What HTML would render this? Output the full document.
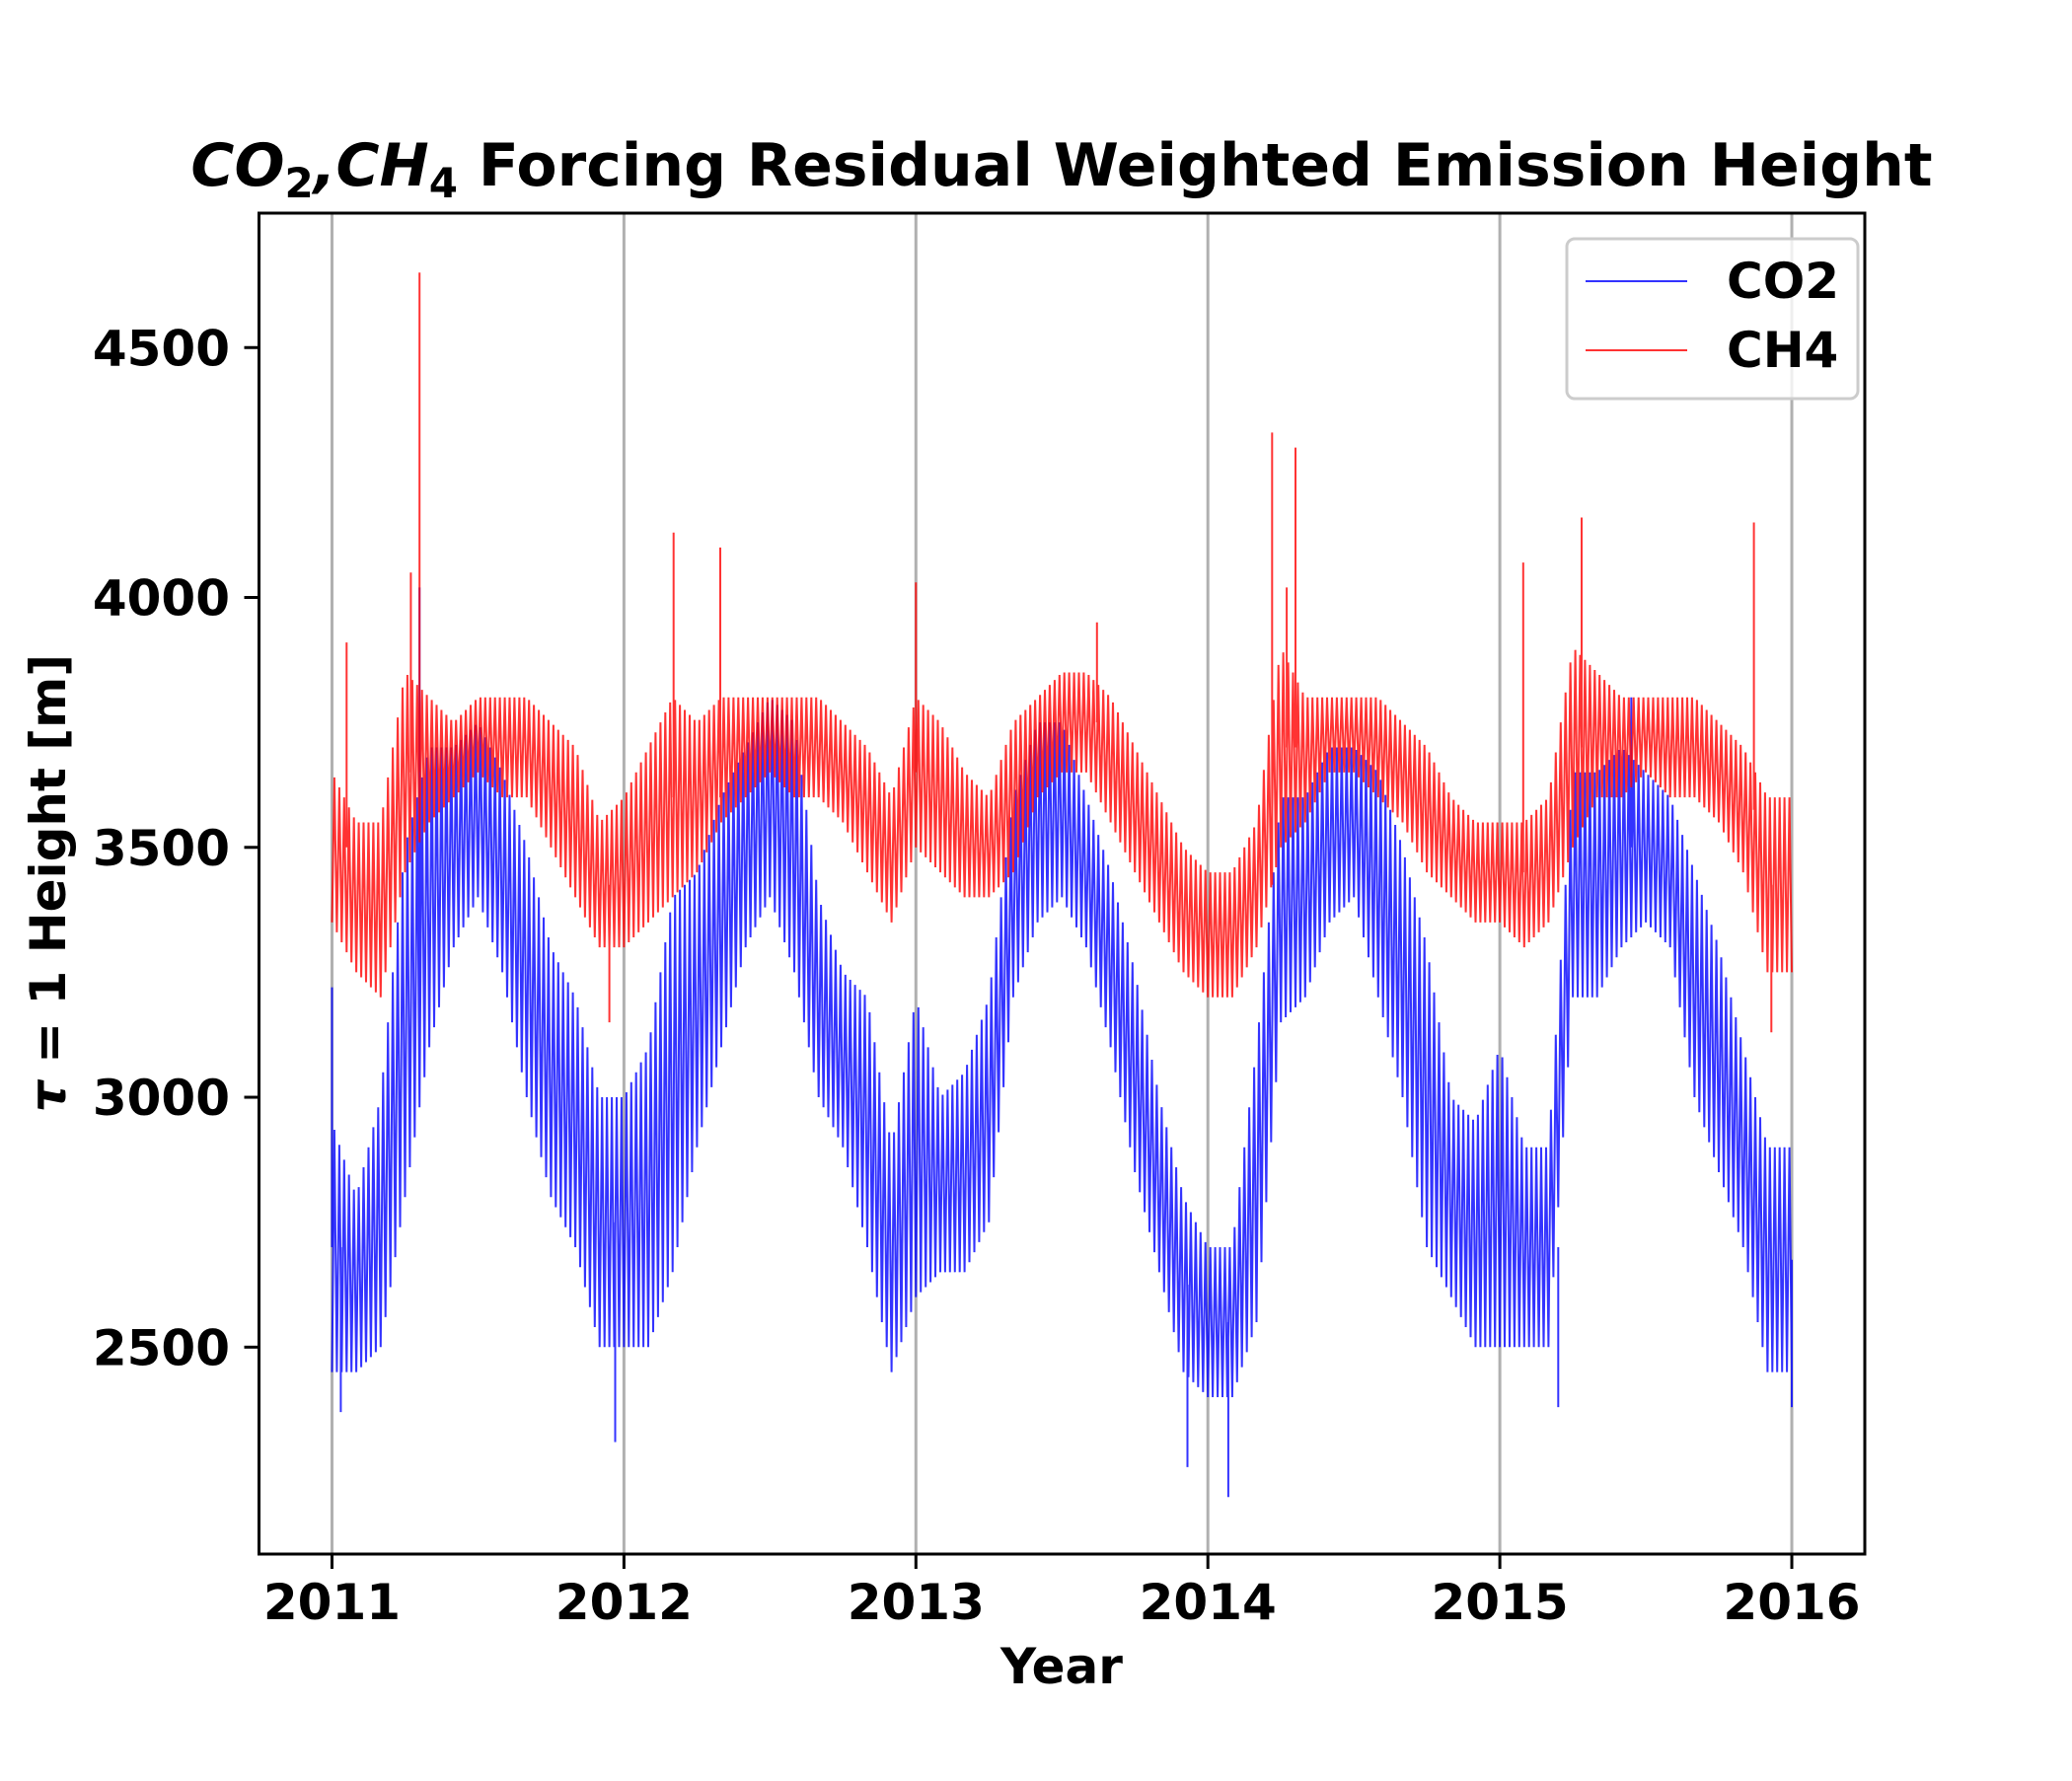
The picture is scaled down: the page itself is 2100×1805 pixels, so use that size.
<!DOCTYPE html>
<html><head><meta charset="utf-8"><style>
html,body{margin:0;padding:0;background:#fff;}
svg text{font-family:"DejaVu Sans","Liberation Sans",sans-serif;font-weight:bold;}
</style></head><body>
<svg id="chart" width="2100" height="1800" viewBox="0 0 2100 1800" xmlns="http://www.w3.org/2000/svg">
<rect width="2100" height="1800" fill="#fff"/>
<text x="1076" y="188" font-size="60" text-anchor="middle"><tspan font-style="italic">CO</tspan><tspan font-size="42" dy="12">2</tspan><tspan dy="-12" font-style="italic">,CH</tspan><tspan font-size="42" dy="12">4</tspan><tspan dy="-12"> Forcing Residual Weighted Emission Height</tspan></text>
<g id="grid"></g>
<g id="series"></g>
<rect x="262.5" y="216" width="1627.5" height="1359" fill="none" stroke="#000" stroke-width="3"/>
<g id="xticks"></g>
<g id="yticks"></g>
<text x="1076" y="1706" font-size="50" text-anchor="middle">Year</text>
<text transform="translate(66,895) rotate(-90)" font-size="50" text-anchor="middle"><tspan font-style="italic">τ</tspan> = 1 Height [m]</text>
<g>
<rect x="1588" y="242" width="295" height="162" rx="8" fill="#fff" fill-opacity="0.8" stroke="#ccc" stroke-width="3"/>
<line x1="1607" y1="285" x2="1710" y2="285" stroke="rgba(0,0,255,0.8)" stroke-width="2"/>
<text x="1750" y="302" font-size="50">CO2</text>
<line x1="1607" y1="355" x2="1710" y2="355" stroke="rgba(255,0,0,0.8)" stroke-width="2"/>
<text x="1750" y="372" font-size="50">CH4</text>
</g>
</svg>
<script>
const years = [2011, 2012, 2013, 2014, 2015, 2016];
const yTicks = [2500, 3000, 3500, 4000, 4500];
const co2Lo = [2450,2450,2500,2800,3100,3300,3400,3250,3000,2800,2700,2500,
  2500,2500,2650,2900,3100,3300,3400,3250,3000,2900,2700,2450,
  2600,2650,2650,2750,3200,3350,3400,3300,3100,2850,2650,2450,
  2400,2400,2550,3150,3200,3350,3400,3200,3000,2700,2600,2500,
  2500,2500,2500,3200,3200,3300,3350,3300,3000,2850,2700,2450];
const co2Hi = [2950,2800,3000,3500,3700,3700,3750,3650,3500,3300,3200,3000,
  3000,3100,3400,3450,3600,3700,3800,3750,3400,3250,3200,2900,
  3200,3000,3050,3200,3600,3750,3750,3600,3450,3250,3000,2800,
  2700,2700,3100,3600,3600,3700,3700,3650,3500,3300,3000,2950,
  3100,2900,2900,3650,3650,3700,3650,3600,3450,3300,3100,2900];
const ch4Lo = [3350,3250,3200,3450,3550,3600,3650,3600,3600,3500,3400,3300,
  3300,3350,3400,3450,3550,3600,3650,3600,3600,3550,3450,3350,
  3500,3450,3400,3400,3450,3600,3650,3650,3550,3450,3350,3250,
  3200,3200,3300,3500,3550,3650,3650,3600,3550,3450,3400,3350,
  3350,3300,3350,3500,3600,3600,3650,3600,3600,3550,3450,3250];
const ch4Hi = [3650,3550,3550,3850,3800,3750,3800,3800,3800,3750,3700,3550,
  3600,3700,3800,3750,3800,3800,3800,3800,3800,3750,3700,3600,
  3800,3750,3650,3600,3750,3800,3850,3850,3800,3700,3600,3500,
  3450,3450,3550,3900,3800,3800,3800,3800,3750,3700,3600,3550,
  3550,3550,3600,3900,3850,3800,3800,3800,3800,3750,3700,3600];
const co2SpikeT = [2011.0, 2011.03, 2011.3, 2011.97, 2013.93, 2014.07, 2015.2, 2015.45, 2016.0];
const co2SpikeV = [3220, 2370, 4020, 2310, 2260, 2200, 2380, 3800, 2380];
const ch4SpikeT = [2011.05, 2011.27, 2011.3, 2011.95, 2012.17, 2012.33, 2013.0, 2013.62, 2014.22, 2014.27, 2014.3, 2015.08, 2015.28, 2015.87, 2015.93];
const ch4SpikeV = [3910, 4050, 4650, 3150, 4130, 4100, 4030, 3950, 4330, 4020, 4300, 4070, 4160, 4150, 3130];

const NS='http://www.w3.org/2000/svg';
const X0=262.5,X1=1890,Y0=216,Y1=1575;
const xMin=2010.75,xMax=2016.25,yMin=2086,yMax=4769;
function xs(t){return X0+(t-xMin)/(xMax-xMin)*(X1-X0);}
function ys(v){return Y1-(v-yMin)/(yMax-yMin)*(Y1-Y0);}
function mk(tag,attrs,parent){const e=document.createElementNS(NS,tag);for(const k in attrs)e.setAttribute(k,attrs[k]);parent.appendChild(e);return e;}

const grid=document.getElementById('grid');
const xt=document.getElementById('xticks');
years.forEach(y=>{
  const x=xs(y);
  const g=mk('line',{x1:x,y1:Y0,x2:x,y2:Y1,stroke:'#b0b0b0','stroke-width':3},grid);
  
  
  const tk=mk('line',{x1:x,y1:Y1,x2:x,y2:Y1+15,stroke:'#000','stroke-width':3},xt);
  
  
  const tx=mk('text',{x:x,y:1641,'font-size':50,'text-anchor':'middle'},xt);
  tx.textContent=y;
  
  
});
const yt=document.getElementById('yticks');
yTicks.forEach(v=>{
  const y=ys(v);
  const tk=mk('line',{x1:X0-15,y1:y,x2:X0,y2:y,stroke:'#000','stroke-width':3},yt);
  
  
  const tx=mk('text',{x:233,y:y+18,'font-size':50,'text-anchor':'end'},yt);
  tx.textContent=v;
  
  
});

const ser=document.getElementById('series');
function drawSeries(lo,hi,spT,spV,color,name){
  const n=lo.length, SUB=10;
  let pts=[];
  for(let i=0;i<n;i++){
    for(let k=0;k<SUB;k++){
      const f=k/SUB;
      const j=Math.min(i+1,n-1);
      const l=lo[i]+(lo[j]-lo[i])*f, h=hi[i]+(hi[j]-hi[i])*f;
      const t=2011+(i+f)/12;
      pts.push([xs(t),ys(k%2?h:l)]);
    }
  }
  pts.push([xs(2016),ys(lo[n-1])]);
  let d='M'+pts.map(p=>p[0].toFixed(1)+','+p[1].toFixed(1)).join('L');
  spT.forEach((t,i)=>{
    const m=Math.max(0,Math.min(n-1,Math.floor((t-2011)*12)));
    const base=(lo[m]+hi[m])/2;
    d+='M'+xs(t).toFixed(1)+','+ys(base).toFixed(1)+'L'+xs(t).toFixed(1)+','+ys(spV[i]).toFixed(1);
  });
  const p=mk('path',{d:d,fill:'none',stroke:color,'stroke-width':2,'stroke-linejoin':'miter'},ser);
  
  
}
drawSeries(co2Lo,co2Hi,co2SpikeT,co2SpikeV,'rgba(0,0,255,0.8)','co2-line');
drawSeries(ch4Lo,ch4Hi,ch4SpikeT,ch4SpikeV,'rgba(255,0,0,0.8)','ch4-line');
</script>
</body></html>
